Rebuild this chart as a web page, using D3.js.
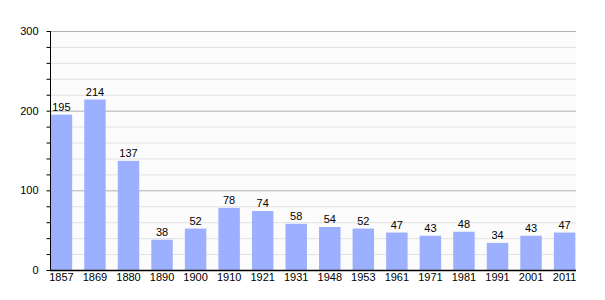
<!DOCTYPE html>
<html>
<head>
<meta charset="utf-8">
<script src="https://cdn.jsdelivr.net/npm/d3@7"></script>
<style>
  body { margin: 0; background: #fff; }
  text { font-family: "Liberation Sans", Arial, sans-serif; }
</style>
</head>
<body>
<div class="container"></div>
<script>
const years = ["1857", "1869", "1880", "1890", "1900", "1910", "1921", "1931",
               "1948", "1953", "1961", "1971", "1981", "1991", "2001", "2011"];
const population = [195, 214, 137, 38, 52, 78, 74, 58, 54, 52, 47, 43, 48, 34, 43, 47];
const yTicks = [0, 100, 200, 300];

const w = 605;
const h = 300;
const padLeft = 50, padRight = 576, padTop = 31, padBottom = 270;

const svg = d3.select(".container")
  .append("svg")
  .attr("width", w)
  .attr("height", h);

const xScale = d3.scaleBand()
  .domain(years)
  .range([padLeft, padRight])
  .paddingInner(0.36)
  .paddingOuter(0.02);

const yScale = d3.scaleLinear()
  .domain([0, 300])
  .range([padBottom, padTop]);

// plot background
svg.append("rect")
  .attr("x", padLeft).attr("y", padTop)
  .attr("width", padRight - padLeft).attr("height", padBottom - padTop)
  .attr("fill", "#fcfcfc");

// minor grid
const minor = d3.range(0, 301, 20).filter(d => d % 100 !== 0);
svg.selectAll(".minor")
  .data(minor)
  .enter().append("line")
  .attr("x1", padLeft).attr("x2", padRight)
  .attr("y1", d => yScale(d) + 0.5).attr("y2", d => yScale(d) + 0.5)
  .attr("stroke", "#e2e2e2");

// major grid
svg.selectAll(".major")
  .data(yTicks.filter(d => d > 0))
  .enter().append("line")
  .attr("x1", padLeft).attr("x2", padRight)
  .attr("y1", d => yScale(d) + 0.5).attr("y2", d => yScale(d) + 0.5)
  .attr("stroke", "#b0b0b0");

// bars
svg.selectAll(".bar")
  .data(population)
  .enter().append("rect")
  .attr("x", (d, i) => xScale(years[i]))
  .attr("y", d => yScale(d))
  .attr("width", xScale.bandwidth())
  .attr("height", d => yScale(0) - yScale(d))
  .attr("fill", "#9db0ff");

// value labels
svg.selectAll(".lbl")
  .data(population)
  .enter().append("text")
  .attr("x", (d, i) => xScale(years[i]) + xScale.bandwidth() / 2)
  .attr("y", d => yScale(d) - 4)
  .attr("text-anchor", "middle")
  .attr("font-size", 11)
  .attr("fill", "#000")
  .text(d => d);

// y axis
const yAxis = d3.axisLeft(yScale)
  .tickValues(d3.range(0, 301, 20))
  .tickSize(4)
  .tickFormat(d => yTicks.includes(d) ? d : "");
svg.append("g")
  .attr("transform", "translate(" + (padLeft + 0.5) + ",0)")
  .attr("id", "y-axis")
  .call(yAxis)
  .call(g => g.selectAll("text").attr("font-size", 11).attr("fill", "#000").attr("x", -12))
  .call(g => g.selectAll("line").attr("stroke", "#000"))
  .call(g => g.select(".domain").attr("stroke", "#000").attr("d", "M0," + padTop + "V" + padBottom));

// x axis
const xAxis = d3.axisBottom(xScale).tickSize(0).tickPadding(3);
svg.append("g")
  .attr("transform", "translate(0," + (padBottom + 0.5) + ")")
  .attr("id", "x-axis")
  .call(xAxis)
  .call(g => g.selectAll("text").attr("font-size", 11).attr("fill", "#000"))
  .call(g => g.select(".domain").attr("stroke", "#000").attr("stroke-width", 1.5).attr("d", "M" + padLeft + ",0H" + padRight));
</script>
</body>
</html>
